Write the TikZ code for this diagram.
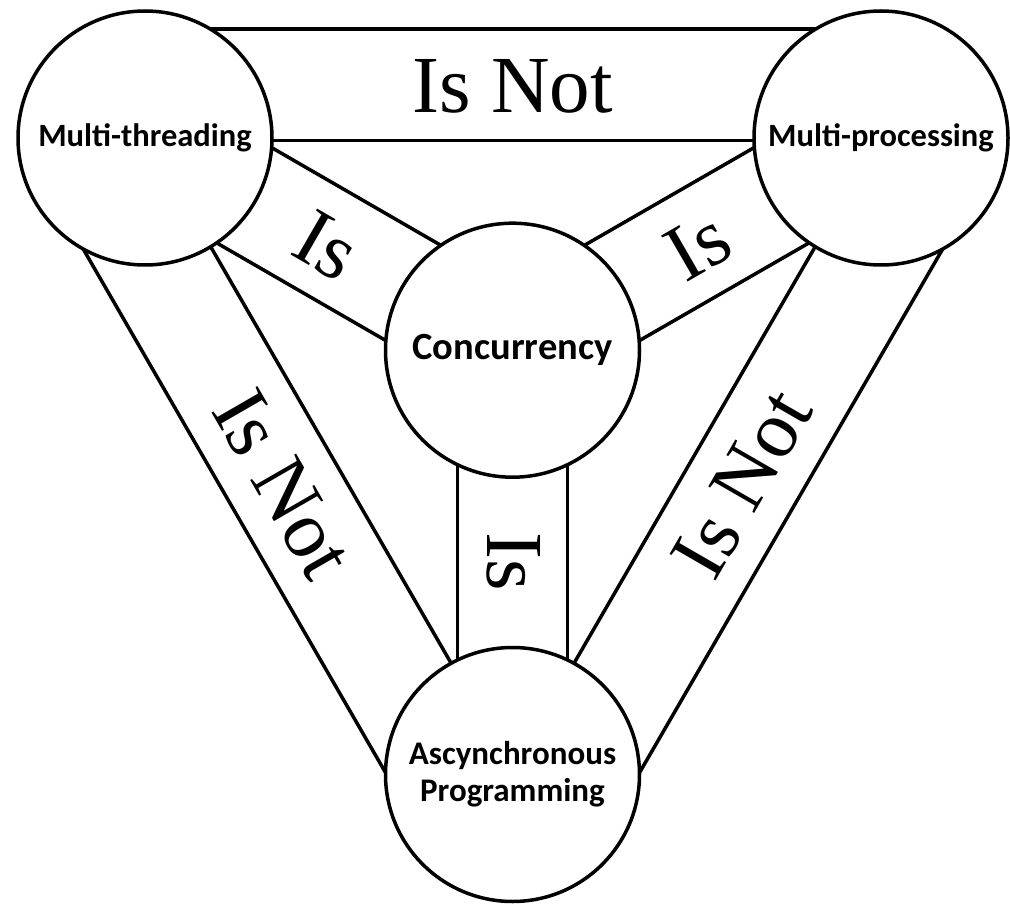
\documentclass[tikz,border=0pt]{standalone}
\usepackage{fontspec}
\setmainfont{Liberation Serif}
\newfontfamily\calibrifont{Carlito}
\usetikzlibrary{calc,backgrounds}
\begin{document}
\begin{tikzpicture}[x=1pt,y=-1pt,line width=3.5pt,
  bubble/.style={circle,draw,fill=white,line width=3.5pt,minimum size=254pt,inner sep=0pt,align=center},
  bandline/.style={draw,line width=3.5pt},
  smalllbl/.style={font=\calibrifont\bfseries\fontsize{32.5}{32.5}\selectfont},
  biglbl/.style={font=\calibrifont\bfseries\fontsize{38.5}{38.5}\selectfont},
  asynclbl/.style={font=\calibrifont\bfseries\fontsize{33}{37}\selectfont},
  rel/.style={font=\fontsize{81}{81}\selectfont,inner sep=0pt}]
\useasboundingbox (0,0) rectangle (1010,904);
% circles
\node[bubble,smalllbl] (mt) at (145,138) {Multi-threading};
\node[bubble,smalllbl] (mp) at (881,138) {Multi-processing};
\node[bubble,biglbl] (conc) at (512.5,350.2) {Concurrency};
\node[bubble,asynclbl] (as) at (512.5,774.5) {Ascynchronous\\Programming};
% bands
\begin{scope}[on background layer]
  % top band (Is Not)
  \path[bandline] ($(mt.center)!109pt!90:(mp.center)$) -- ($(mp.center)!109pt!-90:(mt.center)$);
  \path[bandline] ($(mt.center)!2.5pt!-90:(mp.center)$) -- ($(mp.center)!2.5pt!90:(mt.center)$);
  % left band (Is Not)
  \path[bandline] ($(mt.center)!109pt!-90:(as.center)$) -- ($(as.center)!109pt!90:(mt.center)$);
  \path[bandline] ($(mt.center)!2.5pt!90:(as.center)$) -- ($(as.center)!2.5pt!-90:(mt.center)$);
  % right band (Is Not)
  \path[bandline] ($(mp.center)!109pt!90:(as.center)$) -- ($(as.center)!109pt!-90:(mp.center)$);
  \path[bandline] ($(mp.center)!2.5pt!-90:(as.center)$) -- ($(as.center)!2.5pt!90:(mp.center)$);
  % inner bands (Is)
  \path[bandline] ($(mt.center)!55pt!90:(conc.center)$) -- ($(conc.center)!55pt!-90:(mt.center)$);
  \path[bandline] ($(mt.center)!55pt!-90:(conc.center)$) -- ($(conc.center)!55pt!90:(mt.center)$);
  \path[bandline] ($(mp.center)!55pt!90:(conc.center)$) -- ($(conc.center)!55pt!-90:(mp.center)$);
  \path[bandline] ($(mp.center)!55pt!-90:(conc.center)$) -- ($(conc.center)!55pt!90:(mp.center)$);
  \path[bandline] ($(conc.center)!55pt!90:(as.center)$) -- ($(as.center)!55pt!-90:(conc.center)$);
  \path[bandline] ($(conc.center)!55pt!-90:(as.center)$) -- ($(as.center)!55pt!90:(conc.center)$);
\end{scope}
% band labels
\node[rel] (lt) at (512.5,86) {Is Not};
\node[rel,rotate=-60] (ll) at (283,484) {Is Not};
\node[rel,rotate=60] (lr) at (742,484) {Is Not};
\node[rel,rotate=-30] (il) at (327,246) {Is};
\node[rel,rotate=30] (ir) at (698,246) {Is};
\node[rel,rotate=-90] (iv) at (514,562) {Is};
\end{tikzpicture}
\end{document}
